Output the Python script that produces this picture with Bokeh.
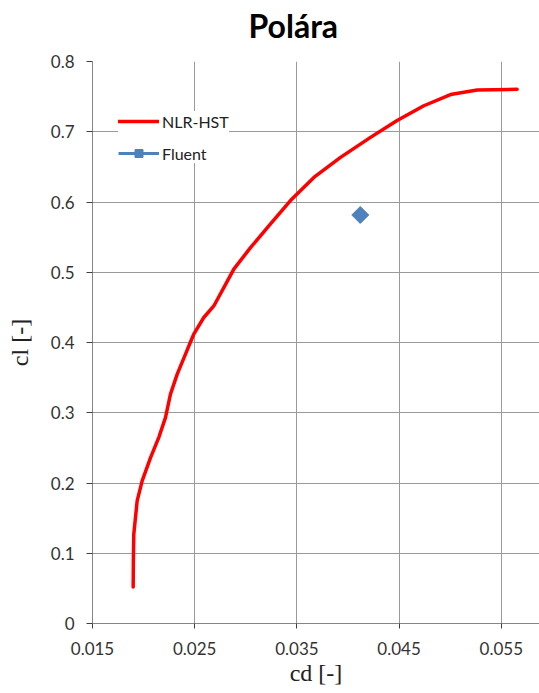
import math
from bokeh.plotting import figure
from bokeh.models import Range1d, FixedTicker, Legend, LegendItem, Title
from bokeh.embed import file_html
from bokeh.resources import INLINE

# NLR-HST polar (cd, cl)
nlr_cd = [0.01898, 0.01900, 0.01904, 0.01937, 0.01986, 0.02068, 0.02149, 0.02214,
          0.02263, 0.02329, 0.02410, 0.02471, 0.02491, 0.02589, 0.02687, 0.02785,
          0.02883, 0.03046, 0.03242, 0.03437, 0.03666, 0.03927, 0.04220, 0.04481,
          0.04742, 0.05003, 0.05264, 0.05655]
nlr_cl = [0.052, 0.090, 0.127, 0.1745, 0.203, 0.236, 0.265, 0.293,
          0.3265, 0.355, 0.3835, 0.405, 0.412, 0.4356, 0.452, 0.478,
          0.5045, 0.535, 0.5687, 0.602, 0.635, 0.6635, 0.692, 0.716,
          0.737, 0.753, 0.7595, 0.7604]

# Fluent result
fluent_cd = [0.0412]
fluent_cl = [0.5815]

x_ticks = [0.015, 0.025, 0.035, 0.045, 0.055]
x_labels = ["0.015", "0.025", "0.035", "0.045", "0.055"]
y_ticks = [0.0, 0.1, 0.2, 0.3, 0.4, 0.5, 0.6, 0.7, 0.8]
y_labels = ["0", "0.1", "0.2", "0.3", "0.4", "0.5", "0.6", "0.7", "0.8"]

title_text = "Polára"

p = figure(width=539, height=693, output_backend="svg", toolbar_location=None,
           x_range=Range1d(0.015, 0.05874), y_range=Range1d(0, 0.8),
           min_border_left=92, min_border_right=0, min_border_top=61,
           min_border_bottom=70)
p.outline_line_color = None
p.background_fill_color = "white"
p.border_fill_color = "white"

# small spacer between the frame and the title
spacer = Title(text=" ", text_font_size="8px", standoff=6)
p.add_layout(spacer, "above")
main_title = Title(text=title_text, text_font="Lato", text_font_size="32px",
                   text_font_style="bold", text_color="black",
                   align="left", offset=156, vertical_align="bottom", standoff=0)
p.add_layout(main_title, "above")

for ax, ticks, labels in ((p.xaxis, x_ticks, x_labels), (p.yaxis, y_ticks, y_labels)):
    ax.ticker = FixedTicker(ticks=ticks)
    ax.major_label_overrides = dict(zip(ticks, labels))
    ax.major_label_text_font = "Lato"
    ax.major_label_text_font_size = "17px"
    ax.major_label_text_color = "#333333"
    ax.axis_line_color = "#868686"
    ax.major_tick_line_color = "#404040"
    ax.major_tick_in = 0
    ax.minor_tick_line_color = None
    ax.axis_label_text_font = "Liberation Serif"
    ax.axis_label_text_font_size = "24px"
    ax.axis_label_text_font_style = "normal"
    ax.axis_label_text_color = "#222222"

p.xaxis.major_tick_out = 5
p.xaxis.major_label_standoff = 13
p.xaxis.axis_label = "cd [-]"
p.xaxis.axis_label_standoff = 2

p.yaxis.major_tick_out = 6
p.yaxis.major_label_standoff = 12
p.yaxis.axis_label = "cl [-]"
p.yaxis.axis_label_standoff = 15

p.xgrid.ticker = FixedTicker(ticks=x_ticks)
p.ygrid.ticker = FixedTicker(ticks=y_ticks)
p.grid.grid_line_color = "#9a9a9a"
p.grid.grid_line_width = 1

r1 = p.line(nlr_cd, nlr_cl, line_color="#FF0000", line_width=3.5,
            line_join="round", line_cap="round")
r2 = p.line(fluent_cd, fluent_cl, line_color="#4F81BD", line_width=3)
r3 = p.scatter(fluent_cd, fluent_cl, marker="square", angle=math.pi / 4, size=12,
               fill_color="#4F81BD", line_color="#4F81BD")

legend = Legend(items=[LegendItem(label="NLR-HST", renderers=[r1]),
                       LegendItem(label="Fluent", renderers=[r2, r3])],
                location=(26, 460))
legend.glyph_width = 41
legend.glyph_height = 20
legend.label_height = 20
legend.label_standoff = 3
legend.spacing = 12
legend.padding = 8
legend.margin = 0
legend.border_line_color = None
legend.background_fill_color = "white"
legend.background_fill_alpha = 1
legend.label_text_font = "Lato"
legend.label_text_font_size = "16px"
legend.label_text_color = "#222222"
p.add_layout(legend)

open("out.html", "w").write(file_html(p, INLINE))
